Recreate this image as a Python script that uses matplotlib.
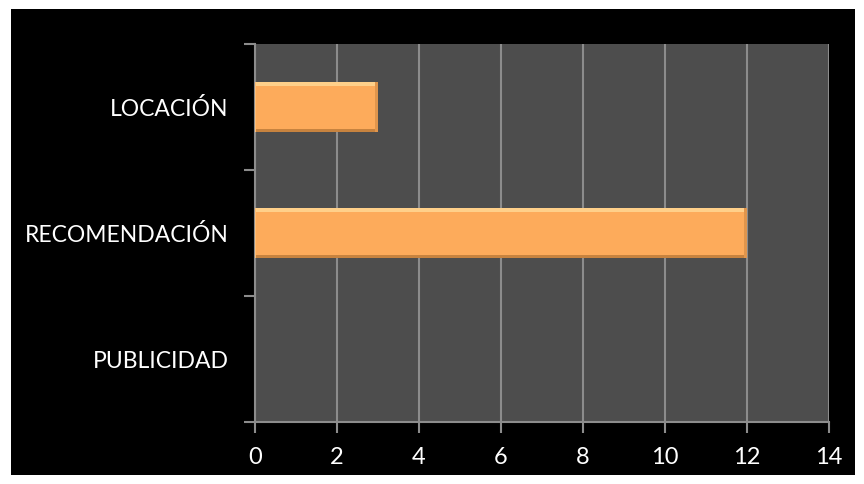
import matplotlib
matplotlib.use("Agg")
import matplotlib.pyplot as plt
from matplotlib.patches import Rectangle

plt.rcParams['font.family'] = ['Lato', 'DejaVu Sans']

categorias = ['PUBLICIDAD', 'RECOMENDACIÓN', 'LOCACIÓN']
valores = [0, 12, 3]
ticks_x = [0, 2, 4, 6, 8, 10, 12, 14]

fig = plt.figure(figsize=(8.64, 4.84), dpi=100, facecolor='white')
# black panel behind the chart
fig.patches.append(Rectangle((11 / 864, 9 / 484), 844 / 864, 466 / 484,
                             transform=fig.transFigure, facecolor='black',
                             edgecolor='none', zorder=-10))

ax = fig.add_axes([255 / 864, 62 / 484, 574 / 864, 378 / 484])
ax.set_facecolor('#4d4d4d')

gris = '#8c8c8c'
ax.set_xlim(0, 14)
ax.set_ylim(-0.5, 2.5)
ax.set_xticks(ticks_x)
ax.grid(axis='x', color=gris, linewidth=1.5, zorder=1)
ax.set_axisbelow(True)

y = list(range(len(categorias)))
barras = ax.barh(y, valores, height=0.4, color='#fdab5b', edgecolor='none', zorder=3)

# bevel on each bar: light top/left edge, darker bottom/right edge
for b in barras:
    if b.get_width() <= 0:
        continue
    x0, y0, w, h = b.get_x(), b.get_y(), b.get_width(), b.get_height()
    ex = 0.07
    ey = h * 0.09
    ax.add_patch(Rectangle((x0, y0 + h - ey), w, ey, facecolor='#ffd08a', edgecolor='none', zorder=4))
    ax.add_patch(Rectangle((x0, y0), w, ey * 0.8, facecolor='#c7833f', edgecolor='none', zorder=4))
    ax.add_patch(Rectangle((x0 + w - ex, y0), ex, h, facecolor='#e0954c', edgecolor='none', zorder=4))
    ax.add_patch(Rectangle((x0, y0), ex * 0.5, h, facecolor='#ffbf78', edgecolor='none', zorder=4))

ax.set_yticks(y)
ax.set_yticklabels(categorias)
ax.set_yticks([-0.5, 0.5, 1.5, 2.5], minor=True)

for s in ['top', 'right']:
    ax.spines[s].set_visible(False)
for s in ['left', 'bottom']:
    ax.spines[s].set_color(gris)
    ax.spines[s].set_linewidth(1.5)

ax.tick_params(axis='y', which='major', length=0, pad=19, labelcolor='white', labelsize=16.5)
ax.tick_params(axis='y', which='minor', length=8, width=1.5, color=gris, direction='out')
ax.tick_params(axis='x', length=8, width=1.5, color=gris, direction='out', pad=10,
               labelcolor='white', labelsize=17)

fig.savefig('out.png', dpi=100, facecolor='white')
